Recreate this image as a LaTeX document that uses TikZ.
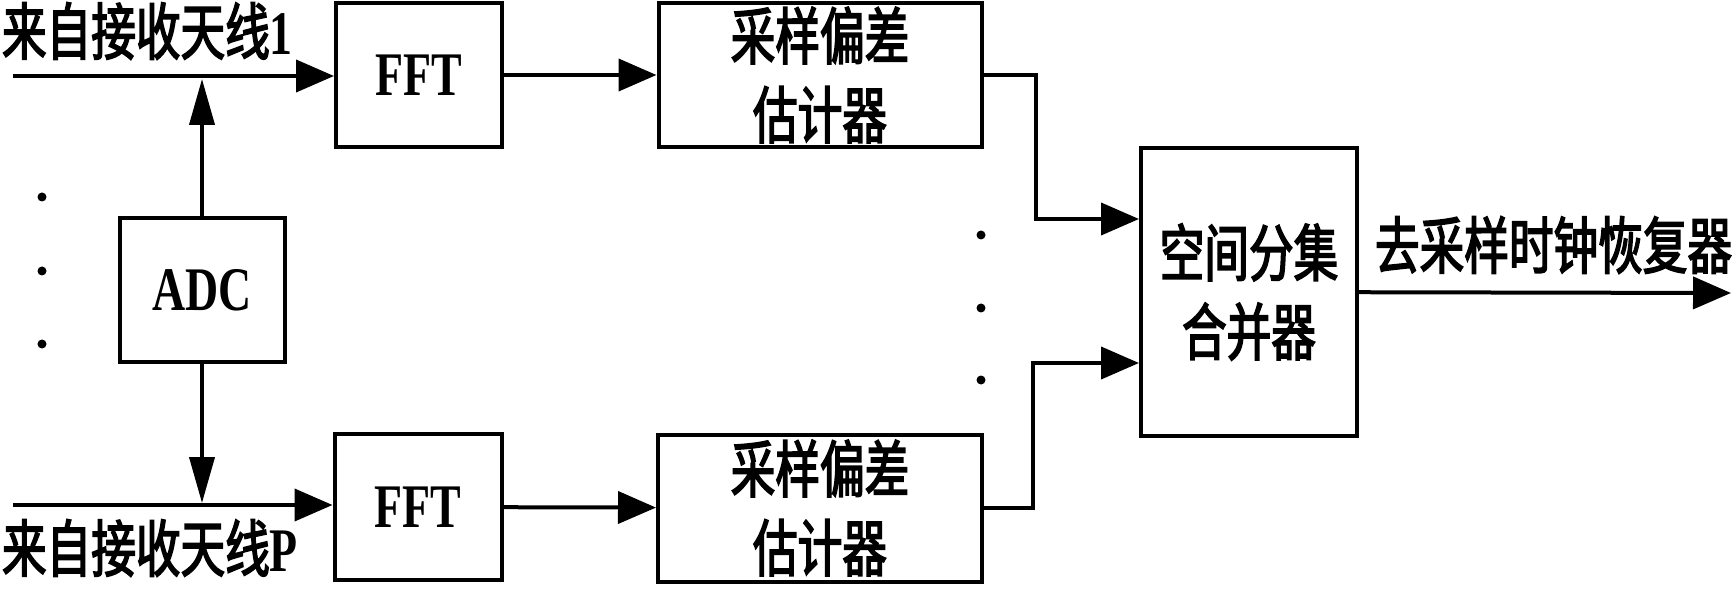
\documentclass[tikz,border=0pt]{standalone}
\usepackage{fontspec}
\setmainfont{Liberation Serif}[FakeStretch=0.74]
\newfontfamily\cjk{Noto Sans CJK SC}[FakeStretch=0.72,FakeBold=2.5]
\usetikzlibrary{arrows.meta}

\begin{document}
\begin{tikzpicture}[x=1pt,y=-1pt,line width=4pt,
  every node/.style={font=\fontsize{62}{80}\selectfont},
  blk/.style={draw, inner sep=0, align=center},
  cn/.style={font=\cjk\fontsize{62}{79}\selectfont},
  lbl/.style={inner sep=0},
  harr/.style={-{Triangle[length=38pt,width=32pt]}},
  varr/.style={-{Triangle[length=46pt,width=25pt]}},
  dot/.style={circle, fill, inner sep=0, minimum size=9pt}]
\useasboundingbox (0,0) rectangle (1735,612);

\node[blk] [minimum width=166pt, minimum height=144pt] at (419,75) (fft1) {\bfseries FFT};
\node[blk] [minimum width=167pt, minimum height=146pt] at (418,507) (fft2) {\bfseries FFT};
\node[blk] [minimum width=165pt, minimum height=144pt] at (202,290) (adc) {\bfseries ADC};
\node[blk,cn] [minimum width=323pt, minimum height=144pt] at (820,75) (samp1) {采样偏差\\估计器};
\node[blk,cn] [minimum width=324pt, minimum height=147pt] at (820,508) (samp2) {采样偏差\\估计器};
\node[blk,cn] [minimum width=216pt, minimum height=288pt] at (1249,292) (comb) {空间分集\\合并器};

\node[lbl] [anchor=west] at (0,31) (ant1) {{\cjk 来自接收天线}\bfseries 1};
\node[lbl] [anchor=west] at (0,548) (antp) {{\cjk 来自接收天线}\bfseries P};
\node[lbl,cn] [anchor=west] at (1373,245) (clk) {去采样时钟恢复器};

\coordinate (in1) at (13,76);
\coordinate (inp) at (13,505);
\coordinate (j1) at (202,79);
\coordinate (jp) at (202,503);
\coordinate (k1) at (1036,219);
\coordinate (kp) at (1033,363);
\coordinate (out) at (1731,293);

\node[dot] at (42,197) (d1) {};
\node[dot] at (42,271) (d2) {};
\node[dot] at (42,344) (d3) {};
\node[dot] at (981,235) (d4) {};
\node[dot] at (981,308) (d5) {};
\node[dot] at (981,380) (d6) {};

\draw[harr] (in1) -- (in1 -| fft1.west);
\draw[harr] (inp) -- (inp -| fft2.west);
\draw[varr] (adc) -- (j1);
\draw[varr] (adc) -- (jp);
\draw[harr] (fft1) -- (samp1);
\draw[harr] (fft2) -- (samp2);
\draw[harr] (samp1.east) -| (k1) -- (k1 -| comb.west);
\draw[harr] (samp2.east) -| (kp) -- (kp -| comb.west);
\draw[harr] (comb) -- (out);
\end{tikzpicture}
\end{document}
